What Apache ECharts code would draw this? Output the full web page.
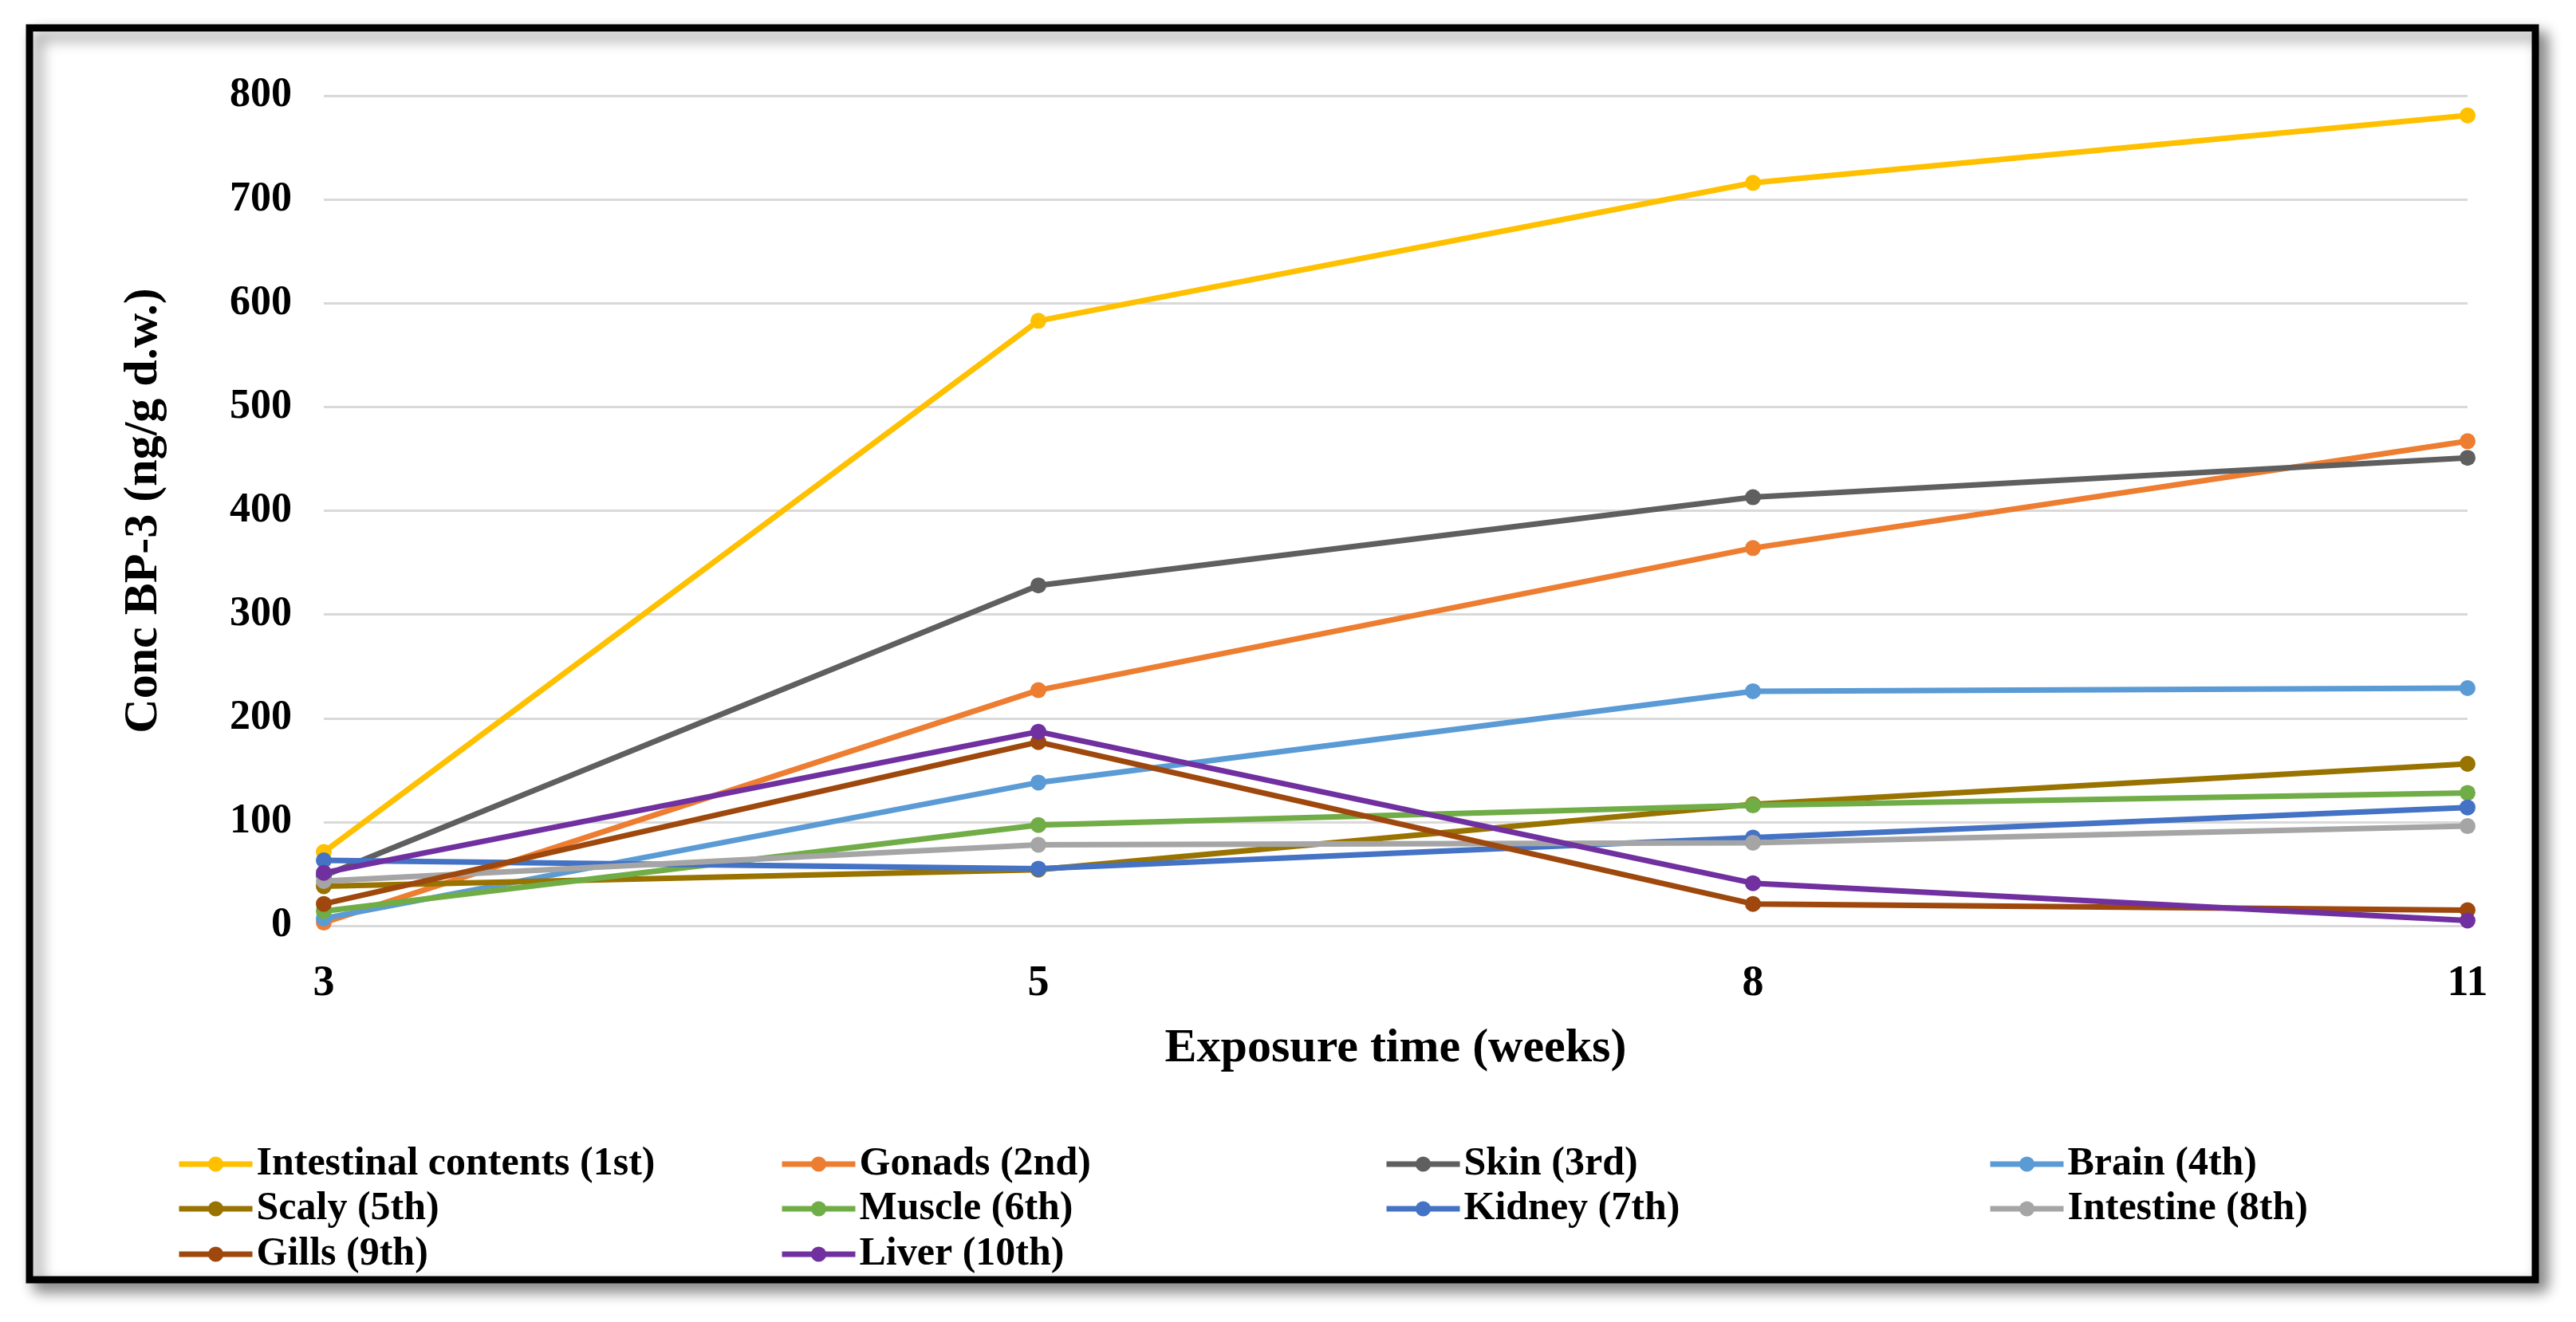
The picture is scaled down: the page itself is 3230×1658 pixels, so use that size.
<!DOCTYPE html>
<html><head><meta charset="utf-8">
<script src="https://cdn.jsdelivr.net/npm/echarts@6/dist/echarts.min.js"></script>
<style>html,body{margin:0;padding:0;background:#fff}#c{width:3230px;height:1658px}</style>
</head><body><div id="c"></div>
<script>
const weeks = ['3', '5', '8', '11'];
const seriesNames = ['Intestinal contents (1st)', 'Gonads (2nd)', 'Skin (3rd)', 'Brain (4th)', 'Scaly (5th)', 'Muscle (6th)', 'Kidney (7th)', 'Intestine (8th)', 'Gills (9th)', 'Liver (10th)'];
const intestinalContents = [71, 583, 716, 781];
const gonads = [3, 227, 364, 467];
const skin = [48, 328, 413, 451];
const brain = [7, 138, 226, 229];
const scaly = [38, 54, 117, 156];
const muscle = [14, 97, 116, 128];
const kidney = [63, 55, 85, 114];
const intestine = [43, 78, 80, 96];
const gills = [21, 177, 21, 15];
const liver = [51, 187, 41, 5];
const yTicks = [0, 100, 200, 300, 400, 500, 600, 700, 800];
const values = [intestinalContents, gonads, skin, brain, scaly, muscle, kidney, intestine, gills, liver];
const colors = ['#FFC000', '#ED7D31', '#5F5F5F', '#5B9BD5', '#997300', '#70AD47', '#4472C4', '#A5A5A5', '#9E480E', '#7030A0'];

const font = '"Liberation Serif", "Times New Roman", serif';
const chart = echarts.init(document.getElementById('c'));

const legendCols = [216, 972, 1730, 2487];
const legendRows = [1430, 1486, 1543];
const legends = seriesNames.map((n, i) => ({
  data: [n],
  left: legendCols[i % 4],
  top: legendRows[Math.floor(i / 4)],
  itemWidth: 92,
  itemHeight: 24,
  lineStyle: {width: 7},
  textStyle: {fontFamily: font, fontWeight: 'bold', fontSize: 50, color: '#000'},
  selectedMode: false
}));

chart.setOption({
  animation: false,
  backgroundColor: '#fff',
  graphic: [{
    type: 'rect', z: -10,
    shape: {x: 37, y: 35, width: 3142, height: 1570},
    style: {fill: '#fff', stroke: '#000', lineWidth: 9, shadowBlur: 18, shadowColor: 'rgba(0,0,0,0.45)', shadowOffsetX: 10, shadowOffsetY: 10}
  }],
  legend: legends,
  grid: {left: 406, top: 120, width: 2688, height: 1041, containLabel: false},
  xAxis: {
    type: 'category', data: weeks, boundaryGap: false,
    name: 'Exposure time (weeks)', nameLocation: 'middle', nameGap: 124,
    nameTextStyle: {fontFamily: font, fontWeight: 'bold', fontSize: 60, color: '#000'},
    axisLine: {show: true, lineStyle: {color: '#D9D9D9', width: 3}},
    axisTick: {show: false},
    axisLabel: {fontFamily: font, fontWeight: 'bold', fontSize: 54, color: '#000', margin: 46}
  },
  yAxis: {
    type: 'value', min: yTicks[0], max: yTicks[yTicks.length - 1], interval: 100,
    name: 'Conc BP-3 (ng/g d.w.)', nameLocation: 'middle', nameGap: 196, nameRotate: 90,
    nameTextStyle: {fontFamily: font, fontWeight: 'bold', fontSize: 60, color: '#000'},
    axisLine: {show: false}, axisTick: {show: false},
    axisLabel: {fontFamily: font, fontWeight: 'bold', fontSize: 52, color: '#000', margin: 40},
    splitLine: {lineStyle: {color: '#D9D9D9', width: 3}}
  },
  series: seriesNames.map((n, i) => ({
    name: n, type: 'line', data: values[i],
    symbol: 'circle', symbolSize: 20,
    lineStyle: {width: 7, color: colors[i]},
    itemStyle: {color: colors[i]}
  }))
});
</script></body></html>
